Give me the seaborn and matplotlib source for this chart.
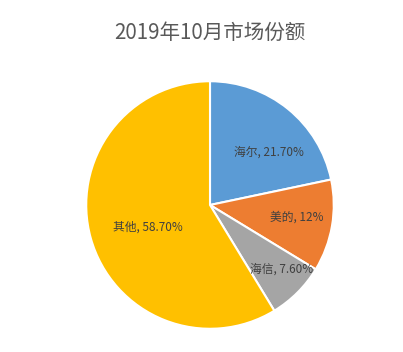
import matplotlib
matplotlib.use("Agg")
import matplotlib.pyplot as plt
import seaborn as sns

# data
brands = ["海尔", "美的", "海信", "其他"]
shares = [21.70, 12, 7.60, 58.70]
share_labels = ["21.70%", "12%", "7.60%", "58.70%"]
colors = ["#5B9BD5", "#ED7D31", "#A5A5A5", "#FFC000"]

# label placement (pie radius = 1)
label_pos = [(0.48, 0.43), (0.70, -0.10), (0.58, -0.52), (-0.50, -0.18)]

sns.set_theme(style="white")
plt.rcParams['font.family'] = ['Noto Sans CJK SC', 'DejaVu Sans']

fig = plt.figure(figsize=(4.03, 3.52), dpi=100)
ax = fig.add_axes([85 / 403, 22 / 352, 250 / 403, 250 / 352])

ax.pie(shares, colors=colors, startangle=90, counterclock=False,
       wedgeprops=dict(edgecolor="white", linewidth=1.5))
ax.set_xlim(-1.01, 1.01)
ax.set_ylim(-1.01, 1.01)
ax.set_aspect("equal")
ax.axis("off")

for name, lab, (x, y) in zip(brands, share_labels, label_pos):
    ax.text(x, y, f"{name}, {lab}", ha="center", va="center",
            fontsize=8.5, color="#404040")

fig.text(210 / 403, 1 - 33 / 352, "2019年10月市场份额", ha="center", va="center",
         fontsize=14.8, color="#595959")

fig.savefig("out.png", dpi=100)
